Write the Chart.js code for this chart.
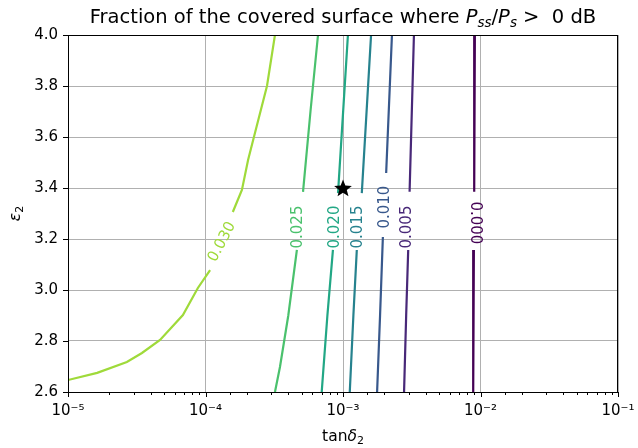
<!DOCTYPE html>
<html>
<head>
<meta charset="utf-8">
<script src="https://cdn.jsdelivr.net/npm/chart.js@4.4.0/dist/chart.umd.min.js"></script>
<style>
  body { margin: 0; background: #fff; }
  #wrap { width: 638px; height: 448px; }
</style>
</head>
<body>
<div id="wrap"><canvas id="chart" width="638" height="448"></canvas></div>
<script>
// contour levels and their colours (viridis)
const levels = ['0.000', '0.005', '0.010', '0.015', '0.020', '0.025', '0.030'];
const levelColors = ['#440154', '#482878', '#38588c', '#26828e', '#22a785', '#4ac16d', '#9fda3a'];

// contour paths (tanδ2, ε2); null = break where the inline label sits
const c000x = [9.1e-3, 9.0e-3, null, 8.95e-3, 8.85e-3];
const c000y = [4.0, 3.385, null, 3.157, 2.6];
const c005x = [3.28e-3, 3.05e-3, null, 2.98e-3, 2.88e-3, 2.78e-3];
const c005y = [4.0, 3.385, null, 3.157, 2.9, 2.6];
const c010x = [2.27e-3, 2.06e-3, null, 1.95e-3, 1.86e-3, 1.77e-3];
const c010y = [4.0, 3.459, null, 3.208, 2.9, 2.6];
const c015x = [1.6e-3, 1.37e-3, null, 1.26e-3, 1.19e-3, 1.12e-3];
const c015y = [4.0, 3.38, null, 3.157, 2.9, 2.6];
const c020x = [1.086e-3, 9.2e-4, null, 8.45e-4, 7.7e-4, 7.0e-4];
const c020y = [4.0, 3.38, null, 3.157, 2.9, 2.6];
const c025x = [6.58e-4, 5.8e-4, 5.12e-4, null, 4.62e-4, 4.0e-4, 3.48e-4, 3.2e-4];
const c025y = [4.0, 3.7, 3.385, null, 3.157, 2.9, 2.698, 2.6];
const c030x = [1.0e-5, 1.63e-5, 2.68e-5, 3.45e-5, 4.67e-5, 6.85e-5, 8.8e-5, 1.08e-4, null,
               1.58e-4, 1.84e-4, 2.04e-4, 2.25e-4, 2.8e-4, 3.2e-4];
const c030y = [2.647, 2.675, 2.718, 2.753, 2.804, 2.902, 3.008, 3.078, null,
               3.306, 3.392, 3.51, 3.6, 3.8, 4.0];
const contourX = [c000x, c005x, c010x, c015x, c020x, c025x, c030x];
const contourY = [c000y, c005y, c010y, c015y, c020y, c025y, c030y];

// inline label anchors (data units) and text angle in degrees
const labelX = [9.1e-3, 2.92e-3, 2.02e-3, 1.29e-3, 8.75e-4, 4.71e-4, 1.32e-4];
const labelY = [3.263, 3.247, 3.325, 3.247, 3.247, 3.247, 3.188];
const labelAngle = [90, -90, -90, -90, -90, -90, -62];

// marked design point
const starX = [1e-3];
const starY = [3.4];

const decades = [-5, -4, -3, -2, -1];
const decadeLabels = ['10\u207B\u2075', '10\u207B\u2074', '10\u207B\u00B3', '10\u207B\u00B2', '10\u207B\u00B9'];

const FONT = "'DejaVu Sans', sans-serif";

function isDecade(v) {
    const e = Math.log10(v);
    return Math.abs(e - Math.round(e)) < 1e-6;
}

function starImage() {
    const c = document.createElement('canvas');
    c.width = 20; c.height = 20;
    const g = c.getContext('2d');
    g.beginPath();
    for (let i = 0; i < 10; i++) {
        const r = i % 2 === 0 ? 9.3 : 4.0;
        const a = -Math.PI / 2 + i * Math.PI / 5;
        const px = 10 + r * Math.cos(a), py = 10.8 + r * Math.sin(a);
        if (i === 0) g.moveTo(px, py); else g.lineTo(px, py);
    }
    g.closePath();
    g.fillStyle = '#000';
    g.fill();
    return c;
}

// draw text made of runs with different fonts / offsets
function drawRuns(ctx, runs, cx, cy) {
    let w = 0;
    runs.forEach(r => { ctx.font = r.font; r.w = ctx.measureText(r.t).width; w += r.w; });
    let x = cx - w / 2;
    ctx.textAlign = 'left';
    ctx.textBaseline = 'alphabetic';
    runs.forEach(r => {
        ctx.font = r.font;
        ctx.fillText(r.t, x, cy + (r.dy || 0));
        x += r.w;
    });
}

const datasets = [{
    label: 'star',
    data: starX.map((x, i) => ({ x: x, y: starY[i] })),
    pointStyle: starImage(),
    pointRadius: 10,
    showLine: false
}];
levels.forEach((lv, k) => {
    datasets.push({
        label: lv,
        data: contourX[k].map((x, i) => ({ x: x, y: contourY[k][i] })),
        showLine: true,
        borderColor: levelColors[k],
        borderWidth: 2.2,
        pointRadius: 0,
        spanGaps: false,
        tension: 0
    });
});

const extras = {
    id: 'extras',
    afterDraw(chart) {
        const ctx = chart.ctx;
        const a = chart.chartArea;
        const xs = chart.scales.x, ys = chart.scales.y;
        ctx.save();

        // contour labels
        ctx.font = '15px ' + FONT;
        ctx.textAlign = 'center';
        ctx.textBaseline = 'middle';
        levels.forEach((lv, k) => {
            const px = xs.getPixelForValue(labelX[k]);
            const py = ys.getPixelForValue(labelY[k]);
            ctx.save();
            ctx.translate(px, py);
            ctx.rotate(labelAngle[k] * Math.PI / 180);
            ctx.fillStyle = levelColors[k];
            ctx.fillText(lv, 0, 0);
            ctx.restore();
        });

        // spines
        ctx.strokeStyle = '#000';
        ctx.lineWidth = 1;
        ctx.strokeRect(a.left + 0.5, a.top + 0.5, a.right - a.left - 1, a.bottom - a.top);

        // tick marks
        ctx.beginPath();
        xs.ticks.forEach(t => {
            const px = Math.round(xs.getPixelForValue(t.value)) + 0.5;
            const len = isDecade(t.value) ? 5 : 3;
            ctx.moveTo(px, a.bottom);
            ctx.lineTo(px, a.bottom + len);
        });
        ys.ticks.forEach(t => {
            const py = Math.round(ys.getPixelForValue(t.value)) + 0.5;
            ctx.moveTo(a.left, py);
            ctx.lineTo(a.left - 5, py);
        });
        ctx.stroke();

        // title
        ctx.fillStyle = '#000';
        const big = '19.5px ' + FONT, bigI = 'italic 19.5px ' + FONT, sub = 'italic 13.5px ' + FONT;
        drawRuns(ctx, [
            { t: 'Fraction of the covered surface where ', font: big },
            { t: 'P', font: bigI },
            { t: 'ss', font: sub, dy: 4 },
            { t: '/', font: big },
            { t: 'P', font: bigI },
            { t: 's', font: sub, dy: 4 },
            { t: ' >  0 dB', font: big }
        ], (a.left + a.right) / 2, 23);

        // x axis title
        drawRuns(ctx, [
            { t: 'tan', font: '15.5px ' + FONT },
            { t: '\u03B4', font: 'italic 15.5px ' + FONT },
            { t: '2', font: '11px ' + FONT, dy: 3 }
        ], (a.left + a.right) / 2, 441);

        // y axis title
        ctx.save();
        ctx.translate(20, (a.top + a.bottom) / 2);
        ctx.rotate(-Math.PI / 2);
        drawRuns(ctx, [
            { t: '\u03B5', font: 'italic 15.5px ' + FONT },
            { t: '2', font: '11px ' + FONT, dy: 3 }
        ], 0, 0);
        ctx.restore();

        ctx.restore();
    }
};

new Chart(document.getElementById('chart'), {
    type: 'scatter',
    data: { datasets: datasets },
    options: {
        responsive: false,
        animation: false,
        devicePixelRatio: 1,
        layout: { padding: { left: 0, right: 20, top: 35, bottom: 0 } },
        plugins: {
            legend: { display: false },
            tooltip: { enabled: false }
        },
        scales: {
            x: {
                type: 'logarithmic',
                min: 1e-5,
                max: 1e-1,
                afterFit: s => { s.height = 56; s.paddingLeft = 0; s.paddingRight = 0; },
                border: { display: false },
                grid: {
                    drawTicks: false,
                    color: c => (c.tick && isDecade(c.tick.value)) ? '#b0b0b0' : 'rgba(0,0,0,0)',
                    lineWidth: 1
                },
                ticks: {
                    autoSkip: false,
                    maxRotation: 0,
                    padding: 10,
                    color: '#000',
                    font: { family: FONT, size: 15 },
                    callback: v => {
                        if (!isDecade(v)) return '';
                        const i = decades.indexOf(Math.round(Math.log10(v)));
                        return i >= 0 ? decadeLabels[i] : '';
                    }
                }
            },
            y: {
                min: 2.6,
                max: 4.0,
                afterFit: s => { s.width = 68; s.paddingTop = 0; s.paddingBottom = 0; },
                border: { display: false },
                grid: { drawTicks: false, color: '#b0b0b0', lineWidth: 1 },
                ticks: {
                    stepSize: 0.2,
                    padding: 10,
                    color: '#000',
                    font: { family: FONT, size: 15 },
                    callback: v => v.toFixed(1)
                }
            }
        }
    },
    plugins: [extras]
});
</script>
</body>
</html>
